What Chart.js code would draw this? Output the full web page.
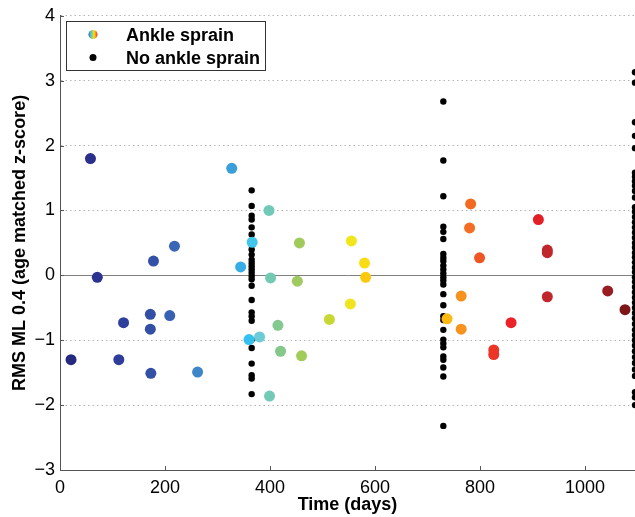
<!DOCTYPE html>
<html>
<head>
<meta charset="utf-8">
<script src="https://cdn.jsdelivr.net/npm/chart.js@4.4.0/dist/chart.umd.min.js"></script>
<style>
  body { margin: 0; background: #fff; }
  #wrap { width: 635px; height: 517px; position: relative; }
</style>
</head>
<body>
<div id="wrap"><canvas id="sprainChart"></canvas></div>
<script>
// ankle sprain subjects: day of test and z-score
const sprainDays = [21, 58, 71, 112, 121, 172, 172, 173, 178, 209, 218, 262, 327, 344, 366, 360, 380,
    398, 401, 399, 415, 420, 452, 456, 460, 513, 553, 555, 580, 582, 737, 764, 764, 780, 782, 799,
    826, 826, 859, 911, 928, 928, 928, 1043, 1076];
const sprainScores = [-1.30, 1.80, -0.03, -1.30, -0.73, -0.60, -0.83, -1.51, 0.22, -0.62, 0.45, -1.49, 1.65, 0.13, 0.51, -0.99, -0.95,
    1.00, -0.04, -1.86, -0.77, -1.17, -0.09, 0.50, -1.24, -0.68, -0.44, 0.53, 0.19, -0.03, -0.67, -0.32, -0.83, 0.73, 1.10, 0.27,
    -1.15, -1.22, -0.73, 0.86, 0.39, 0.35, -0.33, -0.24, -0.53];

// no sprain group, tested at 1, 2 and 3 years
const followUpDays = [365, 730, 1095];
const year1Scores = [1.31, 1.07, 0.92, 0.86, 0.74, 0.63, 0.51, 0.40, 0.32, 0.24, 0.19, 0.14, 0.09, 0.04, -0.01, -0.06,
    -0.16, -0.38, -0.57, -0.63, -0.70, -0.99, -1.12, -1.36, -1.54, -1.59, -1.83];
const year2Scores = [2.68, 1.77, 1.22, 0.75, 0.67, 0.56, 0.33, 0.27, 0.22, 0.15, 0.09, 0.03, -0.03, -0.08, -0.14, -0.29,
    -0.46, -0.63, -0.69, -0.84, -0.99, -1.05, -1.11, -1.25, -1.30, -1.42, -1.56, -2.32];
const year3Scores = [3.13, 2.97, 2.36, 2.15, 1.96, 1.58, 1.52, 1.45, 1.38, 1.30, 1.20, 1.05, 0.98, 0.90, 0.82, 0.74,
    0.66, 0.58, 0.50, 0.43, 0.35, 0.28, 0.20, 0.12, 0.05, -0.03, -0.10, -0.18, -0.26, -0.34, -0.42, -0.50, -0.58,
    -0.66, -0.75, -0.84, -0.92, -1.00, -1.08, -1.17, -1.26, -1.35, -1.45, -1.55, -1.80, -1.88, -2.00];

const xTicks = [0, 200, 400, 600, 800, 1000];
const yTicks = [-3, -2, -1, 0, 1, 2, 3, 4];

// colour map along time (day -> colour)
const colorStops = [
    [0, '#23267a'], [60, '#2b2f8c'], [120, '#2f3f9c'], [175, '#3350a6'], [220, '#3a67b7'],
    [262, '#3f86c9'], [330, '#3a9fdb'], [345, '#37aee6'], [362, '#35c3f0'], [380, '#6bcbd6'],
    [400, '#72c9b4'], [415, '#82c88f'], [455, '#9fcb5c'], [513, '#c7d733'], [555, '#f1e51c'],
    [580, '#f9dc14'], [583, '#fdc00f'], [737, '#fdb813'], [764, '#f7921e'], [782, '#f26a22'],
    [800, '#f05424'], [826, '#ec3526'], [860, '#eb2228'], [912, '#e21f26'], [928, '#c0272d'],
    [1043, '#9b1c20'], [1076, '#7e1517']
];

function hexToRgb(h) {
    return [parseInt(h.slice(1, 3), 16), parseInt(h.slice(3, 5), 16), parseInt(h.slice(5, 7), 16)];
}
function dayColor(d) {
    if (d <= colorStops[0][0]) return colorStops[0][1];
    for (let i = 1; i < colorStops.length; i++) {
        if (d <= colorStops[i][0]) {
            const [d0, c0] = colorStops[i - 1];
            const [d1, c1] = colorStops[i];
            const t = (d - d0) / (d1 - d0);
            const a = hexToRgb(c0), b = hexToRgb(c1);
            const m = a.map((v, k) => Math.round(v + (b[k] - v) * t));
            return `rgb(${m[0]},${m[1]},${m[2]})`;
        }
    }
    return colorStops[colorStops.length - 1][1];
}

const sprainPoints = sprainDays.map((d, i) => ({ x: d, y: sprainScores[i] }));
const noSprainPoints = [];
[year1Scores, year2Scores, year3Scores].forEach((list, i) => {
    list.forEach(v => noSprainPoints.push({ x: followUpDays[i], y: v }));
});

const FONT = '"Liberation Sans", Arial, Helvetica, sans-serif';
const AXIS_COLOR = '#555';

// zero line + inward tick marks + boxed legend inside the plot
const decorations = {
    id: 'decorations',
    beforeDatasetsDraw(chart) {
        const { ctx, chartArea, scales } = chart;
        const y0 = Math.round(scales.y.getPixelForValue(0)) + 0.5;
        ctx.save();
        ctx.strokeStyle = '#808080';
        ctx.lineWidth = 1;
        ctx.beginPath();
        ctx.moveTo(chartArea.left, y0);
        ctx.lineTo(chartArea.right, y0);
        ctx.stroke();
        ctx.restore();
    },
    afterDraw(chart) {
        const { ctx, chartArea, scales } = chart;
        ctx.save();
        ctx.strokeStyle = AXIS_COLOR;
        ctx.lineWidth = 1;
        ctx.beginPath();
        xTicks.forEach(v => {
            const px = Math.round(scales.x.getPixelForValue(v)) + 0.5;
            ctx.moveTo(px, chartArea.bottom);
            ctx.lineTo(px, chartArea.bottom - 4);
        });
        yTicks.forEach(v => {
            const py = Math.round(scales.y.getPixelForValue(v)) + 0.5;
            ctx.moveTo(chartArea.left, py);
            ctx.lineTo(chartArea.left + 4, py);
        });
        ctx.stroke();

        // legend box
        ctx.fillStyle = '#fff';
        ctx.fillRect(66.5, 21.5, 199, 49);
        ctx.strokeStyle = '#333';
        ctx.strokeRect(66.5, 21.5, 199, 49);

        // rainbow marker
        const grad = ctx.createLinearGradient(88.5, 0, 97.5, 0);
        ['#3350a6', '#35c3f0', '#9fcb5c', '#f1e51c', '#f7921e', '#e21f26'].forEach((c, i, arr) => {
            grad.addColorStop(i / (arr.length - 1), c);
        });
        ctx.fillStyle = grad;
        ctx.beginPath();
        ctx.arc(93, 34.5, 4.5, 0, Math.PI * 2);
        ctx.fill();

        ctx.fillStyle = '#000';
        ctx.beginPath();
        ctx.arc(93, 57.5, 3.5, 0, Math.PI * 2);
        ctx.fill();

        ctx.font = 'bold 18px ' + FONT;
        ctx.textBaseline = 'alphabetic';
        ctx.textAlign = 'left';
        ctx.fillText('Ankle sprain', 126, 41);
        ctx.fillText('No ankle sprain', 126, 63.5);
        ctx.restore();
    }
};

new Chart(document.getElementById('sprainChart'), {
    type: 'scatter',
    data: {
        datasets: [
            {
                label: 'Ankle sprain',
                data: sprainPoints,
                pointRadius: 5.5,
                pointHoverRadius: 5.5,
                borderWidth: 0,
                backgroundColor: ctx => dayColor(ctx.raw ? ctx.raw.x : 0)
            },
            {
                label: 'No ankle sprain',
                data: noSprainPoints,
                pointRadius: 3.2,
                pointHoverRadius: 3.2,
                borderWidth: 0,
                clip: false,
                backgroundColor: '#000'
            }
        ]
    },
    options: {
        responsive: true,
        maintainAspectRatio: false,
        animation: false,
        layout: { autoPadding: false, padding: { top: 15, right: 0, left: 0, bottom: 0 } },
        plugins: {
            legend: { display: false },
            tooltip: { enabled: false }
        },
        scales: {
            x: {
                type: 'linear',
                min: 0,
                max: 1095,
                afterBuildTicks: s => { s.ticks = xTicks.map(v => ({ value: v })); },
                afterFit: s => { s.height = 47; s.paddingRight = 0; s.paddingLeft = 0; },
                grid: { display: false },
                border: { display: true, color: AXIS_COLOR, width: 1 },
                ticks: {
                    color: '#000',
                    font: { family: FONT, size: 18 },
                    padding: -1,
                    maxRotation: 0,
                    callback: v => String(v)
                },
                title: {
                    display: true,
                    text: 'Time (days)',
                    color: '#000',
                    font: { family: FONT, size: 18, weight: 'bold' },
                    padding: { top: 0, bottom: 1 }
                }
            },
            y: {
                min: -3,
                max: 4,
                afterBuildTicks: s => { s.ticks = yTicks.map(v => ({ value: v })); },
                afterFit: s => { s.width = 60; },
                grid: {
                    drawTicks: false,
                    lineWidth: 1,
                    color: c => (c.tick && (c.tick.value === -3 || c.tick.value === 0)) ? 'rgba(0,0,0,0)' : '#b4b4b4'
                },
                border: { display: true, color: AXIS_COLOR, width: 1, dash: [1.5, 3] },
                ticks: {
                    color: '#000',
                    font: { family: FONT, size: 18 },
                    padding: 5,
                    callback: v => String(v).replace('-', '\u2212')
                },
                title: {
                    display: true,
                    text: 'RMS ML 0.4 (age matched z-score)',
                    color: '#000',
                    font: { family: FONT, size: 18, weight: 'bold' },
                    padding: { top: 9, bottom: 0 }
                }
            }
        }
    },
    plugins: [decorations]
});
</script>
</body>
</html>
